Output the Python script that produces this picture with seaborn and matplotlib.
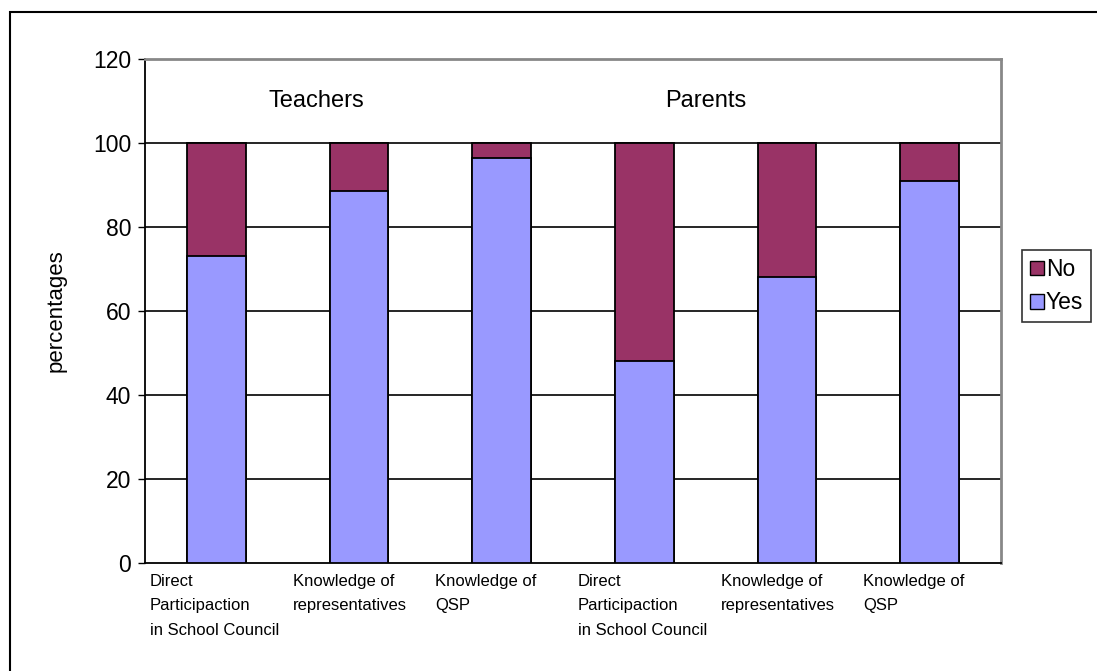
import pandas as pd
import matplotlib.pyplot as plt
import matplotlib.patches as mpatches
import seaborn as sns

# chart values
groups = ['Teachers', 'Parents']
items = ['Direct\nParticipaction\nin School Council',
         'Knowledge of\nrepresentatives',
         'Knowledge of\nQSP']
yes_pct = [73, 88.5, 96.5, 48, 68, 91]
no_pct = [27, 11.5, 3.5, 52, 32, 9]

yes_color = '#9999FF'
no_color = '#993366'

sns.set_style('white')
plt.rcParams['font.family'] = ['Liberation Sans', 'DejaVu Sans']
plt.rcParams['text.color'] = 'black'
plt.rcParams['ytick.color'] = 'black'
plt.rcParams['axes.labelcolor'] = 'black'

labels = items + items
df = pd.DataFrame({'slot': [str(i) for i in range(6)],
                   'label': labels,
                   'Yes': yes_pct,
                   'No': no_pct})
df['Total'] = df['Yes'] + df['No']

fig = plt.figure(figsize=(10.97, 6.71), dpi=100)
ax = fig.add_axes([0.1322, 0.1609, 0.7803, 0.7511])

# stacked bars: full height in "No" colour, then "Yes" on top of it
sns.barplot(data=df, x='slot', y='Total', color=no_color, width=0.41,
            edgecolor='black', linewidth=1.3, saturation=1, ax=ax, zorder=3)
sns.barplot(data=df, x='slot', y='Yes', color=yes_color, width=0.41,
            edgecolor='black', linewidth=1.3, saturation=1, ax=ax, zorder=4)

ax.set_xlim(-0.5, 5.5)
ax.set_ylim(0, 120)
ax.set_yticks(range(0, 121, 20))
ax.tick_params(axis='y', labelsize=16.5, length=5, width=1, direction='out',
               left=True, pad=5, colors='black')
ax.set_xticks([])
ax.set_xlabel('')
ax.set_ylabel('percentages', fontsize=16, labelpad=19)

for y in range(20, 121, 20):
    ax.axhline(y, color='black', linewidth=1.2, zorder=1)

for side in ['left', 'bottom']:
    ax.spines[side].set_color('black')
    ax.spines[side].set_linewidth(1.3)
for side in ['top', 'right']:
    ax.spines[side].set_color('#888888')
    ax.spines[side].set_linewidth(2)

# category labels, left-aligned under each bar
for i, lab in enumerate(df['label']):
    ax.text(i - 0.465, -0.022, lab, transform=ax.get_xaxis_transform(),
            ha='left', va='top', fontsize=12, linespacing=1.78)

# group titles
ax.text(0.7, 110, groups[0], ha='center', va='center', fontsize=17)
ax.text(3.43, 110, groups[1], ha='center', va='center', fontsize=17)

handles = [mpatches.Patch(facecolor=no_color, edgecolor='black', label='No'),
           mpatches.Patch(facecolor=yes_color, edgecolor='black', label='Yes')]
leg = fig.legend(handles=handles, loc='upper left',
                 bbox_to_anchor=(0.9316, 0.6274), fontsize=16.5,
                 frameon=True, fancybox=False, handlelength=0.6,
                 handleheight=0.6, handletextpad=0.1, borderpad=0.35,
                 labelspacing=0.45, borderaxespad=0)
leg.get_frame().set_edgecolor('black')
leg.get_frame().set_linewidth(1.2)

# outer chart-area border (runs off the right and bottom edge)
fig.patches.append(mpatches.Rectangle((10 / 1097, -0.05), 1.2, 1 - 12 / 671 + 0.05,
                                      transform=fig.transFigure, fill=False,
                                      edgecolor='black', linewidth=1.5))

plt.savefig('out.png', dpi=100)
